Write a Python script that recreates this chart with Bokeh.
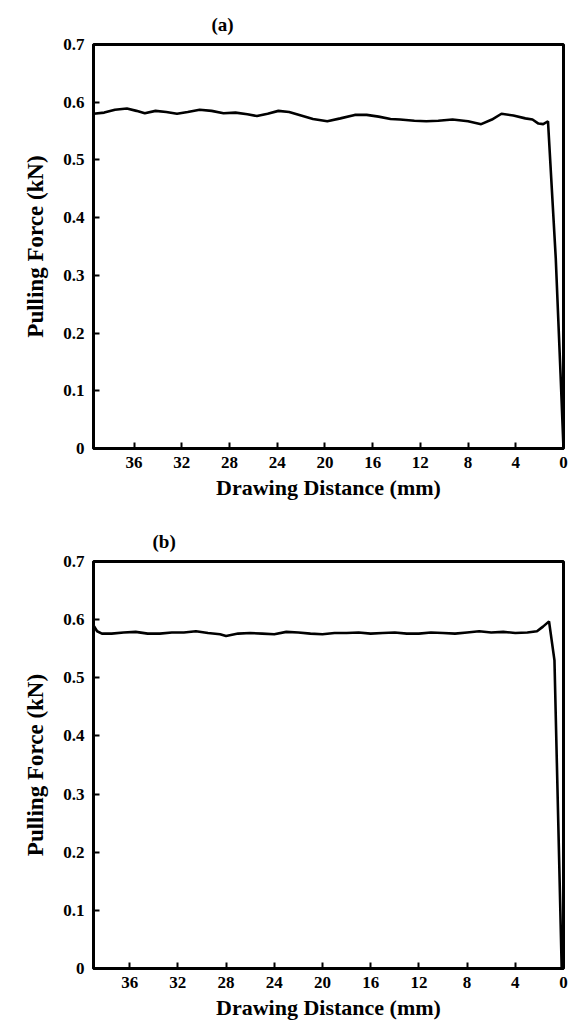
from bokeh.plotting import figure
from bokeh.models import Range1d, FixedTicker, NumeralTickFormatter
from bokeh.layouts import column
from bokeh.embed import file_html
from bokeh.resources import INLINE

# ---- data ----
a_dist = [39.4, 38.5, 37.6, 36.6, 35.8, 35.1, 34.2, 33.3, 32.4, 31.5, 30.5, 29.5,
          28.5, 27.5, 26.5, 25.7, 24.8, 23.9, 23.0, 22.0, 21.0, 19.8, 18.7, 17.5,
          16.5, 15.5, 14.5, 13.7, 12.5, 11.5, 10.5, 9.3, 8.0, 6.9, 6.0, 5.2, 4.2,
          3.2, 2.6, 2.1, 1.7, 1.3, 0.65, 0.25, 0.0]
a_force = [0.580, 0.582, 0.587, 0.589, 0.585, 0.581, 0.585, 0.583, 0.580, 0.583,
           0.587, 0.585, 0.581, 0.582, 0.579, 0.576, 0.580, 0.585, 0.583, 0.577,
           0.571, 0.567, 0.572, 0.578, 0.578, 0.575, 0.571, 0.570, 0.568, 0.567,
           0.568, 0.570, 0.567, 0.562, 0.570, 0.580, 0.577, 0.572, 0.570, 0.563,
           0.562, 0.567, 0.33, 0.13, 0.0]

b_dist = [39.0, 38.7, 38.3, 37.5, 36.5, 35.5, 34.5, 33.5, 32.5, 31.5, 30.5, 29.5,
          28.5, 28.0, 27.0, 26.0, 25.0, 24.0, 23.0, 22.0, 21.0, 20.0, 19.0, 18.0,
          17.0, 16.0, 15.0, 14.0, 13.0, 12.0, 11.0, 10.0, 9.0, 8.0, 7.0, 6.0, 5.0,
          4.0, 3.0, 2.2, 1.7, 1.2, 0.75, 0.15]
b_force = [0.590, 0.580, 0.576, 0.576, 0.578, 0.579, 0.576, 0.576, 0.578, 0.578,
           0.580, 0.577, 0.575, 0.572, 0.576, 0.577, 0.576, 0.575, 0.579, 0.578,
           0.576, 0.575, 0.577, 0.577, 0.578, 0.576, 0.577, 0.578, 0.576, 0.576,
           0.578, 0.577, 0.576, 0.578, 0.580, 0.578, 0.579, 0.577, 0.578, 0.580,
           0.588, 0.597, 0.53, 0.0]

x_ticks = [36, 32, 28, 24, 20, 16, 12, 8, 4, 0]
y_ticks = [0, 0.1, 0.2, 0.3, 0.4, 0.5, 0.6, 0.7]
x_label = "Drawing Distance (mm)"
y_label = "Pulling Force (kN)"
panel_titles = ["(a)", "(b)"]

FONT = "'Liberation Serif'"


def make_panel(xs, ys, x_start, title, title_offset, height, bl, br, bt, bb):
    p = figure(width=569, height=height, output_backend="svg", toolbar_location=None,
               x_range=Range1d(x_start, 0), y_range=Range1d(0, 0.7),
               min_border_left=bl, min_border_right=br, min_border_top=bt,
               min_border_bottom=bb, title=title)
    p.line(xs, ys, line_color="black", line_width=2.6)
    p.xgrid.visible = False
    p.ygrid.visible = False
    p.outline_line_color = "black"
    p.outline_line_width = 3
    p.background_fill_color = "white"
    p.border_fill_color = "white"
    p.title.align = "left"
    p.title.offset = title_offset
    p.title.standoff = 20
    p.title.text_font = FONT
    p.title.text_font_style = "bold"
    p.title.text_font_size = "19px"
    p.title.text_color = "black"
    for ax in (p.xaxis[0], p.yaxis[0]):
        ax.axis_line_width = 3
        ax.axis_line_color = "black"
        ax.major_tick_in = 6
        ax.major_tick_out = 0
        ax.major_tick_line_width = 2
        ax.minor_tick_line_color = None
        ax.major_label_text_font = FONT
        ax.major_label_text_font_style = "bold"
        ax.major_label_text_font_size = "17px"
        ax.major_label_text_color = "black"
        ax.axis_label_text_font = FONT
        ax.axis_label_text_font_style = "bold"
        ax.axis_label_text_color = "black"
    p.xaxis.axis_label_text_font_size = "22px"
    p.yaxis.axis_label_text_font_size = "23px"
    p.xaxis.ticker = FixedTicker(ticks=x_ticks)
    p.yaxis.ticker = FixedTicker(ticks=y_ticks)
    p.yaxis.formatter = NumeralTickFormatter(format="0.[0]")
    p.xaxis.axis_label = x_label
    p.yaxis.axis_label = y_label
    p.xaxis.major_label_standoff = 8
    p.xaxis.axis_label_standoff = 4
    p.yaxis.major_label_standoff = 9
    p.yaxis.axis_label_standoff = 12
    return p


pa = make_panel(a_dist, a_force, 39.4, panel_titles[0], 118, 504, 89, 6, 44, 56)
pb = make_panel(b_dist, b_force, 39.0, panel_titles[1], 59, 523, 93, 3, 57, 59)

layout = column(pa, pb, spacing=0)
open("out.html", "w").write(file_html(layout, INLINE))
